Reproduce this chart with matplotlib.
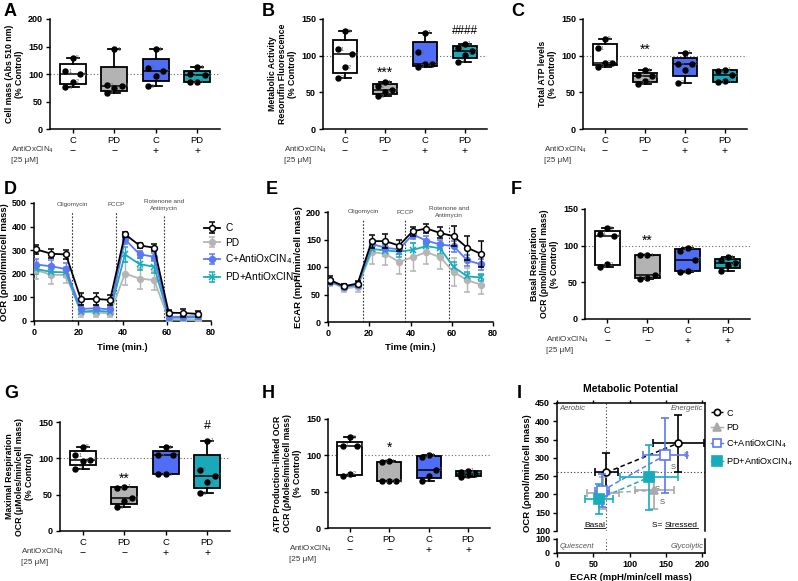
import numpy as np
import matplotlib
matplotlib.use('Agg')
import matplotlib.pyplot as plt
from matplotlib.lines import Line2D

plt.rcParams['font.family'] = ['Liberation Sans', 'DejaVu Sans']
plt.rcParams['axes.linewidth'] = 1.1

# box plot panels (n=5 per group)
groups = ['C', 'PD', 'C', 'PD']
antiox = ['−', '−', '+', '+']
point_ids = [[5, 1, 4, 2, 3], [1, 2, 4, 5, 3], [1, 4, 2, 5, 3], [1, 5, 2, 4, 3]]

cell_mass = [[130, 105, 100, 86, 76], [145, 80, 79, 74, 66], [145, 111, 105, 97, 78], [112, 100, 98, 86, 86]]
metab_act = [[133, 109, 102, 84, 70], [64, 58, 53, 50, 45], [131, 105, 89, 88, 85], [116, 110, 107, 101, 92]]
atp_total = [[123, 110, 90, 90, 85], [80, 73, 72, 65, 62], [104, 89, 89, 81, 63], [81, 79, 73, 65, 64]]
basal_resp = [[124, 116, 113, 75, 71], [87, 87, 60, 56, 55], [97, 93, 81, 66, 64], [84, 80, 76, 74, 66]]
max_resp = [[116, 104, 98, 97, 86], [61, 59, 45, 41, 33], [115, 105, 105, 78, 78], [124, 84, 76, 67, 52]]
atp_ocr = [[125, 113, 113, 75, 72], [92, 91, 64, 64, 64], [100, 98, 80, 72, 65], [79, 77, 75, 73, 70]]

# seahorse time courses
time = [1.1, 7.8, 14.4, 21.2, 27.8, 34.4, 41.1, 47.7, 54.3, 60.9, 67.5, 74.1]
drug_times = [17.2, 37.2, 58.6]
drug_names = ['Oligomycin', 'FCCP', 'Rotenone and\nAntimycin']

ocr_c = [303, 285, 282, 92, 94, 89, 368, 320, 311, 35, 34, 30]
ocr_c_err = [20, 20, 18, 25, 25, 22, 10, 12, 15, 10, 15, 12]
ocr_pd = [215, 196, 195, 38, 36, 32, 201, 180, 173, 7, 5, 4]
ocr_pd_err = [35, 40, 35, 20, 20, 15, 50, 45, 40, 8, 10, 8]
ocr_ca = [239, 232, 220, 51, 54, 49, 346, 283, 272, 18, 18, 21]
ocr_ca_err = [25, 25, 25, 15, 15, 12, 20, 15, 15, 8, 8, 8]
ocr_pa = [220, 208, 206, 39, 44, 39, 282, 241, 230, 14, 14, 15]
ocr_pa_err = [20, 20, 20, 10, 10, 10, 30, 25, 25, 6, 6, 6]

ecar_c = [76, 65, 70, 147, 147, 139, 165, 170, 162, 156, 135, 124]
ecar_c_err = [7, 4, 5, 12, 13, 10, 8, 8, 10, 18, 22, 24]
ecar_pd = [73, 61, 64, 127, 124, 109, 118, 127, 118, 91, 76, 68]
ecar_pd_err = [7, 7, 9, 22, 20, 22, 25, 22, 22, 25, 22, 17]
ecar_ca = [73, 64, 68, 142, 135, 132, 159, 148, 141, 138, 112, 105]
ecar_ca_err = [5, 4, 4, 8, 8, 8, 8, 8, 8, 10, 10, 10]
ecar_pa = [74, 64, 67, 133, 130, 128, 131, 138, 134, 100, 83, 81]
ecar_pa_err = [5, 5, 5, 10, 10, 10, 12, 12, 10, 10, 8, 6]

# metabolic potential (C, PD, C+A, PD+A)
basal_ecar = [68, 64, 62, 58]
basal_ecar_err = [16, 22, 10, 19]
basal_ocr = [260, 204, 210, 188]
basal_ocr_err = [53, 45, 45, 41]
stress_ecar = [167, 134, 149, 127]
stress_ecar_err = [35, 27, 30, 40]
stress_ocr = [340, 211, 307, 247]
stress_ocr_err = [78, 50, 102, 89]

series_names = ['C', 'PD', 'C+AntiOxCIN$_4$', 'PD+AntiOxCIN$_4$']
line_colors = ['black', '#B5B5B5', '#5B78F5', '#17ACBC']
box_colors = ['white', '#B3B3B3', '#4F6DF5', '#19A9B9']

W, H = 798, 581
fig = plt.figure(figsize=(W / 100, H / 100), dpi=100)


def add_ax(l, t, r, b):
    return fig.add_axes([l / W, 1 - b / H, (r - l) / W, (b - t) / H])


def style(ax):
    ax.spines['top'].set_visible(False)
    ax.spines['right'].set_visible(False)
    ax.tick_params(length=3, width=1, labelsize=6.5, pad=2)
    for t in ax.get_yticklabels():
        t.set_fontweight('bold')


jit = [0.0, -0.18, 0.18, 0.0, -0.18]


def box_panel(ax, data, ymax, ylab):
    stats = []
    for v in data:
        q1, med, q3 = np.percentile(v, [25, 50, 75], method='weibull')
        stats.append(dict(med=med, q1=q1, q3=q3, whislo=min(v), whishi=max(v)))
    ax.axhline(100, color='#666666', ls=(0, (1, 2)), lw=0.8, zorder=0.5)
    bp = ax.bxp(stats, positions=range(4), widths=0.62, capwidths=0.28, showfliers=False,
                patch_artist=True, boxprops=dict(lw=1.3), whiskerprops=dict(lw=1.3),
                capprops=dict(lw=1.3), medianprops=dict(color='k', lw=1.1))
    for b, c in zip(bp['boxes'], box_colors):
        b.set_facecolor(c)
    for i, v in enumerate(data):
        for j, y in enumerate(v):
            x = i + jit[j]
            ax.plot(x, y, 'o', color='k', ms=3.6, zorder=4)
            ax.text(x + 0.07, y, str(point_ids[i][j]), fontsize=4, color='#666666',
                    va='center', ha='left', zorder=5)
    ax.set_xlim(-0.55, 3.55)
    ax.set_ylim(0, ymax)
    ax.set_yticks(np.arange(0, ymax + 1, 50))
    ax.set_xticks(range(4))
    ax.set_xticklabels(groups)
    style(ax)
    ax.tick_params(axis='x', labelsize=6.8)
    ax.set_ylabel(ylab, fontsize=6.3, fontweight='bold', linespacing=1.15, labelpad=3)
    for i, s in enumerate(antiox):
        ax.annotate(s, (i, 0), xycoords=('data', 'axes fraction'), xytext=(0, -16),
                    textcoords='offset points', ha='center', va='center', fontsize=7.5)
    ax.annotate('AntiOxCIN$_4$\n[25 μM]', (0, 0), xycoords='axes fraction', xytext=(3, -11),
                textcoords='offset points', ha='right', va='top', multialignment='left',
                fontsize=5.8, color='#333333', linespacing=1.5)


axA = add_ax(50, 19, 220, 129)
box_panel(axA, cell_mass, 200, 'Cell mass (Abs 510 nm)\n(% Control)')

axB = add_ax(323, 19, 487, 129)
box_panel(axB, metab_act, 150, 'Metabolic Activity\nResorufin Fluorescence\n(% Control)')
axB.text(1, 76, '***', ha='center', va='center', fontsize=10)
axB.text(3, 133, '####', ha='center', va='center', fontsize=8.5)

axC = add_ax(583, 19, 747, 129)
box_panel(axC, atp_total, 150, 'Total ATP levels\n(% Control)')
axC.text(1, 108, '**', ha='center', va='center', fontsize=10)

axF = add_ax(585, 209, 750, 319)
box_panel(axF, basal_resp, 150, 'Basal Respiration\nOCR (ρmol/min/cell mass)\n(% Control)')
axF.text(1, 106, '**', ha='center', va='center', fontsize=10)

axG = add_ax(60, 422, 230, 531)
box_panel(axG, max_resp, 150, 'Maximal Respiration\nOCR (μMoles/min/cell mass)\n(% Control)')
axG.text(1, 72, '**', ha='center', va='center', fontsize=10)
axG.text(3, 144, '#', ha='center', va='center', fontsize=9)

axH = add_ax(328, 419, 490, 528)
box_panel(axH, atp_ocr, 150, 'ATP Production-linked OCR\nOCR (ρMoles/min/cell mass)\n(% Control)')
axH.text(1, 111, '*', ha='center', va='center', fontsize=10)


def time_panel(ax, series, errs, ymax, ystep, ylab, line_tops, text_y):
    order = [1, 3, 2, 0]
    markers = ['o', 'o', 'o', 'x']
    handles = {}
    for k in order:
        mfc = 'white' if k == 0 else line_colors[k]
        h = ax.errorbar(time, series[k], yerr=errs[k], color=line_colors[k], marker=markers[k],
                        ms=4.2 if k != 3 else 5, mfc=mfc, mec=line_colors[k], mew=1.1,
                        lw=1.3, elinewidth=1, capsize=2, zorder=3 + (k == 0))
        handles[k] = h
    for x, top, name in zip(drug_times, line_tops, drug_names):
        ax.plot([x, x], [0, top], ls=(0, (1.5, 1.5)), color='#333333', lw=0.8, zorder=1)
        ax.text(x, text_y, name, ha='center', va='center', fontsize=4.6, color='#444444',
                linespacing=1.4, clip_on=False)
    ax.set_xlim(0, 80)
    ax.set_xticks([0, 20, 40, 60, 80])
    ax.set_ylim(0, ymax)
    ax.set_yticks(np.arange(0, ymax + 1, ystep))
    style(ax)
    for t in ax.get_xticklabels():
        t.set_fontweight('bold')
    ax.set_xlabel('Time (min.)', fontsize=6.8, fontweight='bold', labelpad=4)
    ax.set_ylabel(ylab, fontsize=6.8, fontweight='bold', labelpad=2)
    return [handles[k] for k in range(4)]


axD = add_ax(34, 203, 211, 321)
hD = time_panel(axD, [ocr_c, ocr_pd, ocr_ca, ocr_pa], [ocr_c_err, ocr_pd_err, ocr_ca_err, ocr_pa_err],
                500, 100, 'OCR (ρmol/min/cell mass)', [465, 465, 450], 492)
fig.legend(hD, series_names, loc='upper left', bbox_to_anchor=(200 / W, 1 - 219 / H),
           frameon=False, fontsize=7.3, handlelength=1.6, labelspacing=0.45, borderaxespad=0,
           handletextpad=0.5)

axE = add_ax(328, 212, 493, 322)
time_panel(axE, [ecar_c, ecar_pd, ecar_ca, ecar_pa], [ecar_c_err, ecar_pd_err, ecar_ca_err, ecar_pa_err],
           200, 50, 'ECAR (mpH/min/cell mass)', [185, 185, 176], 200)

# panel I: metabolic potential with broken y axis
axI = add_ax(557, 403, 705, 531)
axI2 = add_ax(557, 539, 705, 553)
for ax in (axI, axI2):
    ax.set_xlim(0, 204)
    ax.set_xticks([0, 50, 100, 150, 200])
    ax.axvline(basal_ecar[0], color='#333333', ls=(0, (1, 2)), lw=0.8, zorder=0.5)
    ax.tick_params(length=3, width=1, labelsize=6.5, pad=2)
axI.spines['bottom'].set_visible(False)
axI2.spines['top'].set_visible(False)
axI.tick_params(axis='x', bottom=False, labelbottom=False, top=True, length=2)
axI.set_ylim(100, 450)
axI.set_yticks(np.arange(100, 451, 50))
axI2.set_ylim(0, 100)
axI2.set_yticks([0, 100])
for ax in (axI, axI2):
    for t in ax.get_yticklabels() + ax.get_xticklabels():
        t.set_fontweight('bold')
axI.axhline(basal_ocr[0], color='#333333', ls=(0, (1, 2)), lw=0.8, zorder=0.5)

I_markers = ['o', '^', 's', 's']
I_sizes = [5, 6, 7, 7.5]
hI = []
for k in [1, 3, 2, 0]:
    c = line_colors[k] if k != 1 else '#A9A9A9'
    mfc = 'white' if k in (0, 2) else c
    axI.plot([basal_ecar[k], stress_ecar[k]], [basal_ocr[k], stress_ocr[k]], ls=(0, (3, 2)),
             color=c, lw=1.1, zorder=2)
    h = axI.errorbar([basal_ecar[k], stress_ecar[k]], [basal_ocr[k], stress_ocr[k]],
                     xerr=[basal_ecar_err[k], stress_ecar_err[k]],
                     yerr=[basal_ocr_err[k], stress_ocr_err[k]], fmt=I_markers[k], color=c,
                     mfc=mfc, mec=c, mew=1.2, ms=I_sizes[k], elinewidth=1.2, capsize=3,
                     zorder=3 + k * 0.1)
    axI.annotate('S', (stress_ecar[k], stress_ocr[k]), xytext=(4, -9), textcoords='offset points',
                 fontsize=5.5, color='#555555', ha='left', va='center')
    hI.append((k, h, c, mfc))
hI.sort()
legend_handles = [Line2D([], [], color=c, marker=I_markers[k], mfc=mfc, mec=c, mew=1.2,
                         ms=I_sizes[k] * 0.9, ls=(0, (2, 1.5)) if k == 0 else '-', lw=1)
                  for k, h, c, mfc in hI]
fig.legend(legend_handles, series_names, loc='upper left', bbox_to_anchor=(707 / W, 1 - 405 / H),
           frameon=False, fontsize=6.6, handlelength=1.3, labelspacing=0.6, borderaxespad=0,
           handletextpad=0.4)

axI.set_title('Metabolic Potential', fontsize=7.5, fontweight='bold', pad=8)
axI.set_ylabel('OCR (ρmol/min/cell mass)', fontsize=6.8, fontweight='bold', labelpad=2, y=0.45)
axI2.set_xlabel('ECAR (mpH/min/cell mass)', fontsize=6.8, fontweight='bold', labelpad=3)
corner = dict(fontsize=5.5, style='italic', color='#555555', va='center')
axI.text(3, 435, 'Aerobic', ha='left', **corner)
axI.text(202, 435, 'Energetic', ha='right', **corner)
axI2.text(3, 45, 'Quiescent', ha='left', **corner)
axI2.text(202, 45, 'Glycolytic', ha='right', **corner)
t_basal = axI.text(52, 106, 'Basal', ha='center', va='bottom', fontsize=6)
axI.text(148, 106, 'S= ', ha='right', va='bottom', fontsize=6)
t_stress = axI.text(149, 106, 'Stressed', ha='left', va='bottom', fontsize=6)

# panel letters
for letter, x, y in [('A', 4, 12), ('B', 262, 12), ('C', 511, 12), ('D', 4, 190), ('E', 266, 190),
                     ('F', 511, 190), ('G', 4, 394), ('H', 262, 394), ('I', 517, 394)]:
    fig.text(x / W, 1 - y / H, letter, fontsize=13, fontweight='bold', va='center', ha='left')

fig.canvas.draw()
r = fig.canvas.get_renderer()
for t in (t_basal, t_stress):
    bb = t.get_window_extent(r).transformed(fig.transFigure.inverted())
    fig.add_artist(Line2D([bb.x0, bb.x1], [bb.y0 + 0.001, bb.y0 + 0.001], transform=fig.transFigure,
                          color='k', lw=0.6))

fig.savefig('out.png', dpi=100)
